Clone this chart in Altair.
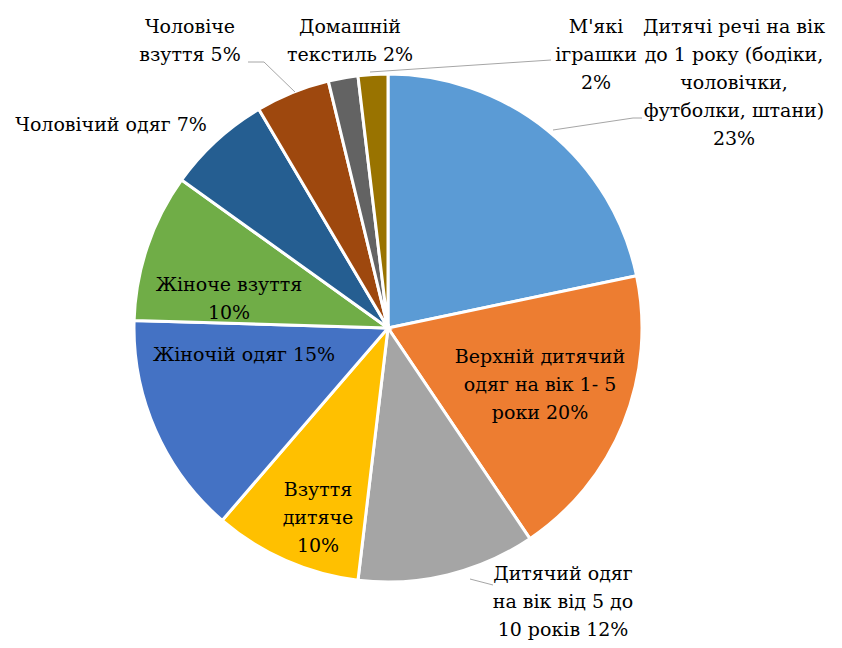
import altair as alt
import pandas as pd

categories = [
    "Дитячі речі на вік до 1 року (бодіки, чоловічки, футболки, штани)",
    "Верхній дитячий одяг на вік 1- 5 роки",
    "Дитячий одяг на вік від 5 до 10 років",
    "Взуття дитяче",
    "Жіночій одяг",
    "Жіноче взуття",
    "Чоловічий одяг",
    "Чоловіче взуття",
    "Домашній текстиль",
    "М'які іграшки",
]
values = [23, 20, 12, 10, 15, 10, 7, 5, 2, 2]
colors = ["#5B9BD5", "#ED7D31", "#A5A5A5", "#FFC000", "#4472C4",
          "#70AD47", "#255E91", "#9E480E", "#636363", "#997300"]

label_texts = [
    "Дитячі речі на вік\nдо 1 року (бодіки,\nчоловічки,\nфутболки, штани)\n23%",
    "Верхній дитячий\nодяг на вік 1- 5\nроки 20%",
    "Дитячий одяг\nна вік від 5 до\n10 років  12%",
    "Взуття\nдитяче\n10%",
    "Жіночій одяг 15%",
    "Жіноче взуття\n10%",
    "Чоловічий одяг 7%",
    "Чоловіче\nвзуття 5%",
    "Домашній\nтекстиль 2%",
    "М'які\nіграшки\n2%",
]
# label anchor (centre of first line), in chart pixels
label_x = [726, 532, 555, 310, 236, 221, 103, 182, 342, 588]
label_y = [19, 349, 566, 482, 347, 277, 117, 19, 19, 19]

# leader lines: segment id, x, y (chart pixels)
leader_seg = [0, 0, 0, 1, 1, 2, 2, 2, 3, 3]
leader_x = [545, 625, 634, 362, 543, 240, 256, 287, 462, 485]
leader_y = [122, 110, 110, 64, 52, 54, 54, 84, 571, 577]

CX, CY, R = 380, 320, 254

pie_df = pd.DataFrame({"cat": categories, "val": values, "idx": list(range(len(values)))})
lab_df = pd.DataFrame({"t": label_texts, "x": label_x, "y": label_y})
lead_df = pd.DataFrame({"s": leader_seg, "x": leader_x, "y": leader_y})

pie = alt.Chart(pie_df).mark_arc(outerRadius=R, stroke="white", strokeWidth=3).encode(
    theta=alt.Theta("val:Q", stack=True),
    order=alt.Order("idx:Q", sort="ascending"),
    color=alt.Color("cat:N", scale=alt.Scale(domain=categories, range=colors), legend=None),
    x=alt.value(CX),
    y=alt.value(CY),
)

leaders = alt.Chart(lead_df).mark_line(color="#A6A6A6", strokeWidth=1).encode(
    x=alt.X("x:Q", scale=None),
    y=alt.Y("y:Q", scale=None),
    detail="s:N",
)

labels = alt.Chart(lab_df).mark_text(
    font="DejaVu Serif", fontSize=19,
    color="#000000", lineBreak="\n",
    lineHeight=28, align="center", baseline="middle",
).encode(
    x=alt.X("x:Q", scale=None),
    y=alt.Y("y:Q", scale=None),
    text="t:N",
)

chart = alt.layer(pie, leaders, labels).properties(
    width=826, height=632, padding=0, autosize=alt.AutoSizeParams(type="none"),
).configure_view(stroke=None)

chart.save("out.html", embed_options={"renderer": "svg", "actions": False})
